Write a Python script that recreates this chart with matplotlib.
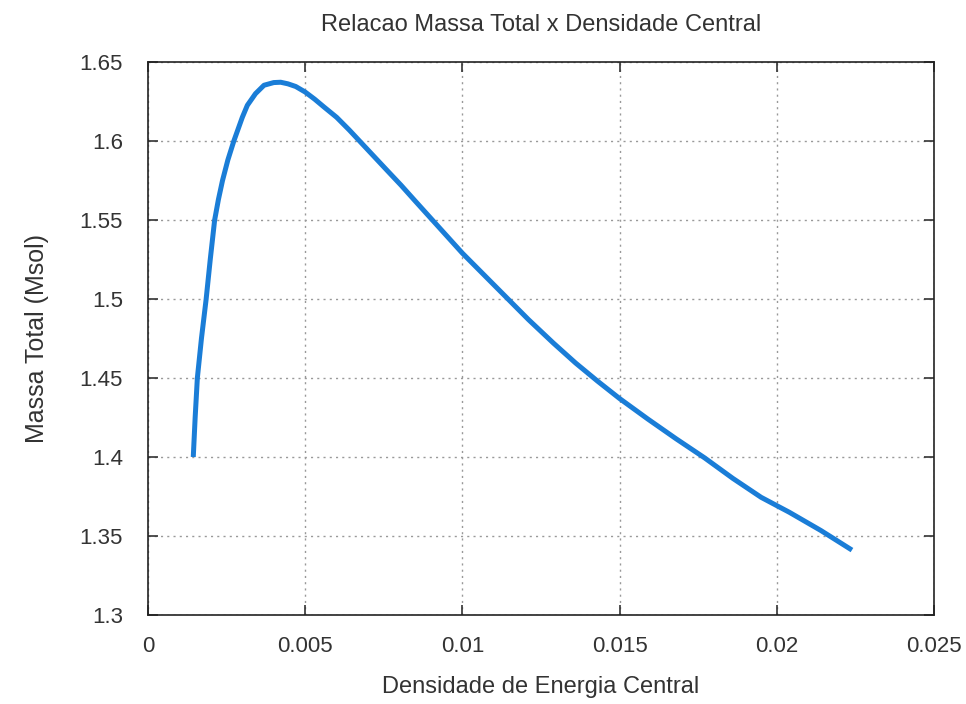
import numpy as np
import matplotlib
matplotlib.use('Agg')
import matplotlib.pyplot as plt

# valores (densidade central, massa total)
densidade = [0.00144, 0.00150, 0.00157, 0.00170, 0.00185, 0.00198, 0.00212, 0.00224,
             0.00237, 0.00254, 0.00273, 0.00300, 0.00316, 0.00342, 0.00369, 0.00400,
             0.00422, 0.00445, 0.00470, 0.00500, 0.00530, 0.00560, 0.00600, 0.00640,
             0.00680, 0.00720, 0.00760, 0.00805, 0.00850, 0.00900, 0.00950, 0.01000,
             0.01070, 0.01140, 0.01210, 0.01290, 0.01360, 0.01430, 0.01500, 0.01590,
             0.01680, 0.01770, 0.01860, 0.01950, 0.02040, 0.02140, 0.02239]
massa = [1.4000, 1.4250, 1.4500, 1.4750, 1.5000, 1.5250, 1.5500, 1.5630,
         1.5750, 1.5880, 1.6000, 1.6150, 1.6226, 1.6300, 1.6353, 1.6370,
         1.6372, 1.6362, 1.6345, 1.6310, 1.6265, 1.6215, 1.6150, 1.6070,
         1.5985, 1.5900, 1.5815, 1.5720, 1.5620, 1.5510, 1.5400, 1.5290,
         1.5150, 1.5010, 1.4870, 1.4720, 1.4595, 1.4480, 1.4370, 1.4240,
         1.4115, 1.3995, 1.3865, 1.3745, 1.3650, 1.3535, 1.3411]

xticks = [0, 0.005, 0.01, 0.015, 0.02, 0.025]
xtick_labels = ['0', '0.005', '0.01', '0.015', '0.02', '0.025']
yticks = [1.3, 1.35, 1.4, 1.45, 1.5, 1.55, 1.6, 1.65]
ytick_labels = ['1.3', '1.35', '1.4', '1.45', '1.5', '1.55', '1.6', '1.65']

plt.rcParams['font.family'] = ['Liberation Sans', 'DejaVu Sans']

fig = plt.figure(figsize=(9.66, 7.04), dpi=100)
ax = fig.add_axes([0.1532, 0.1264, 0.8137, 0.7855])

ax.plot(densidade, massa, color='#1a7dd7', linewidth=3.6,
        solid_capstyle='butt', solid_joinstyle='round')

ax.set_xlim(0, 0.025)
ax.set_ylim(1.3, 1.65)
ax.set_xticks(xticks)
ax.set_xticklabels(xtick_labels)
ax.set_yticks(yticks)
ax.set_yticklabels(ytick_labels)

ax.grid(True, color='#999999', linestyle=(0, (1.5, 3)), linewidth=1.0)
ax.tick_params(direction='in', length=7, width=1.2, top=True, right=True,
               labelsize=16, colors='#333333')
ax.tick_params(axis='y', pad=18)
ax.tick_params(axis='x', pad=15)
for s in ax.spines.values():
    s.set_linewidth(1.2)
    s.set_color('#222222')

ax.set_title('Relacao Massa Total x Densidade Central', fontsize=17, pad=22, color='#333333')
ax.set_xlabel('Densidade de Energia Central', fontsize=17, labelpad=14, color='#333333')
ax.set_ylabel('Massa Total (Msol)', fontsize=18, labelpad=22, color='#333333')

fig.savefig('out.png', dpi=100)
